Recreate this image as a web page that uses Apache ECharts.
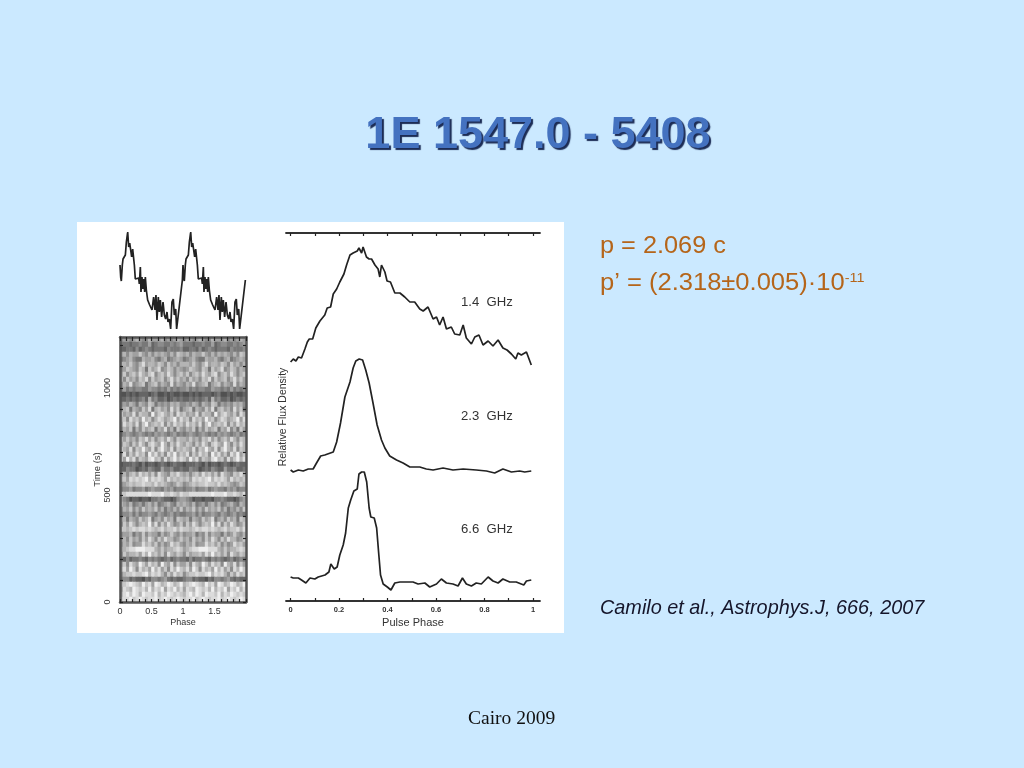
<!DOCTYPE html>
<html><head><meta charset="utf-8">
<style>html,body{margin:0;padding:0;background:#cbe9ff}#c{width:1024px;height:768px}</style>
<script src="https://cdn.jsdelivr.net/npm/echarts@6/dist/echarts.min.js"></script>
</head><body><div id="c"></div>
<script>
// Left profile: one pulse cycle, drawn twice (phase 0-2)
const foldPhase=[0,.011,.021,.037,.048,.063,.085,.101,.122,.138,.154,.175,.185,.201,.217,.228,.243,.27,.296,.307,.323,.333,.349,.36,.376,.392,.402,.418,.439,.471,.508,.534,.556,.571,.587,.608,.624,.64,.661,.683,.704,.725,.746,.762,.783,.804,.825,.846,.862,.884,.899,.915,.99];
const foldFlux=[67,55,51,67,73,71,77,90,100,85,89,88,75,83,82,67,53,55,54,48,65,40,55,43,53,40,55,42,32,27,22,35,22,37,12,35,20,32,15,30,17,13,20,10,13,3,30,33,17,23,3,3,52];
// Time-phase image: brightness digit per phase bin, top row = latest time
const heatRows=["45545654465556454565","33323343352344334345","22332423432333243334","56465575464656546476","34564336556435634565","66575468566576475646","45765476375684576465","57467586578467586467","64756476847567468575","46584567356746548465","45343443354434353434","11212122212311212112","22323234263422312323","45465365476354546564","56736547583675648573","75658476649578657486","67486759674687567958","58675847956768475867","46573647567365846375","34543454343545434534","65756476857467586476","57647586478659647586","76584769658479658476","68475867496857486957","75968476589674857968","12223213122123212322","22433123243225334223","56467586757486547686","67587878968787586767","45676778776867654576","34453445345443545344","77888888898889778768","54312212213343221245","65463453564634564365","46574647565746354647","34453534454354345343","56365475683564756376","47586467695847586457","77678788787678677868","45563547465536457546","56475647586475866457","46574558675746458675","56788999888657566787","47566758696757486576","32423343243432342343","57486597586749658475","68597486759685748697","46778778968786475867","34423221324434532322","67898769785986798679","58769878696879587968","68979869887968798787","78897898788978987898"];
// Right profiles
const phase14=[0,.011,.022,.032,.045,.059,.069,.077,.091,.104,.121,.141,.151,.165,.176,.19,.203,.22,.231,.245,.258,.275,.282,.293,.299,.313,.324,.334,.348,.361,.368,.375,.389,.398,.412,.43,.451,.471,.492,.512,.533,.547,.567,.588,.602,.615,.629,.643,.663,.677,.698,.712,.725,.746,.76,.777,.794,.815,.835,.856,.876,.893,.911,.929,.938,.952,.973,.993];
const flux14=[239,242,240,244,243,252,259,262,262,273,280,286,293,294,307,312,319,327,336,346,348,350,353,348,354,344,342,342,336,332,324,336,329,320,319,308,308,304,299,299,292,290,294,282,284,276,284,272,274,267,266,276,263,257,264,266,256,260,255,261,253,251,247,242,248,246,249,236];
const phase23=[0,.011,.032,.052,.073,.093,.107,.124,.141,.176,.19,.206,.224,.245,.258,.269,.283,.297,.31,.324,.34,.357,.375,.389,.409,.437,.464,.492,.533,.56,.588,.629,.67,.712,.766,.808,.842,.876,.911,.945,.966,.993];
const flux23=[131,129,131,130,132,132,138,145,146,149,159,178,204,219,233,240,242,241,231,218,198,176,161,153,145,141,138,134,134,132,131,133,131,132,131,130,128,132,129,130,129,130];
const phase66=[0,.011,.032,.045,.063,.08,.1,.114,.142,.158,.166,.18,.192,.203,.217,.227,.238,.248,.261,.275,.282,.293,.304,.314,.324,.331,.345,.355,.363,.371,.382,.399,.414,.43,.451,.472,.489,.505,.526,.554,.574,.602,.622,.643,.67,.691,.709,.725,.746,.766,.787,.815,.835,.856,.876,.904,.931,.962,.973,.993];
const flux66=[24,23,23,21,18,23,22,24,26,29,37,32,34,46,56,68,93,101,110,112,127,129,129,119,93,84,83,73,49,26,17,14,11,18,19,19,19,19,17,18,14,17,22,18,17,15,23,17,15,18,17,24,20,18,22,19,19,16,20,21];
const bandLabels=["1.4  GHz","2.3  GHz","6.6  GHz"];
const phaseTicks=[0,.1,.2,.3,.4,.5,.6,.7,.8,.9,1,1.1,1.2,1.3,1.4,1.5,1.6,1.7,1.8,1.9,2];
const phaseLabels=[0,.5,1,1.5];
const timeTicks=[0,100,200,300,400,500,600,700,800,900,1000,1100,1200];
const timeLabels=[0,500,1000];
const pulseTicks=[0,.1,.2,.3,.4,.5,.6,.7,.8,.9,1];
const pulseLabels=[0,.2,.4,.6,.8,1];
const titleText="1E 1547.0 - 5408";
const citation="Camilo et al., Astrophys.J, 666, 2007";
const footer="Cairo 2009";

const zip=(a,b)=>a.map((v,i)=>[v,b[i]]);
const foldTwice=foldPhase.map((p,i)=>[p,foldFlux[i]]).concat(foldPhase.map((p,i)=>[p+1,foldFlux[i]]));
const nCols=heatRows[0].length*2;
const heat=[];
heatRows.forEach((r,y)=>{for(let x=0;x<nCols;x++)heat.push([x,y,+r[x%r.length]]);});
const ink='#333', sans='"Liberation Sans",Arial,sans-serif';
const lineOf=(d,x,y)=>({type:'line',data:d,xAxisIndex:x,yAxisIndex:y,showSymbol:false,symbol:'none',silent:true,animation:false,lineStyle:{color:'#222',width:1.7}});
const frame={onZero:false,lineStyle:{color:'#555',width:2.5}};
const rule={show:true,onZero:false,lineStyle:{color:'#333',width:1.8}};
const tk=(vals,len)=>({show:true,inside:true,length:len,customValues:vals,lineStyle:{color:'#222',width:1.2}});
const chart=echarts.init(document.getElementById('c'),null,{renderer:'canvas'});
chart.setOption({
 backgroundColor:'transparent',animation:false,
 title:{text:titleText,left:533,top:108,textAlign:'center',textStyle:{fontFamily:sans,fontSize:45,fontWeight:'bold',color:'#4472c0',textShadowColor:'#1c2c55',textShadowBlur:1,textShadowOffsetX:2,textShadowOffsetY:2}},
 graphic:[
  {type:'rect',z:-10,shape:{x:77,y:222,width:487,height:411},style:{fill:'#fff'}},
  {type:'text',x:461,y:296,scaleX:1.05,style:{text:bandLabels[0],font:'12.5px '+sans,fill:ink}},
  {type:'text',x:461,y:410,scaleX:1.05,style:{text:bandLabels[1],font:'12.5px '+sans,fill:ink}},
  {type:'text',x:461,y:523,scaleX:1.05,style:{text:bandLabels[2],font:'12.5px '+sans,fill:ink}},
  {type:'text',x:600,y:235,scaleX:1.1,style:{text:'p = 2.069 c',font:'23px '+sans,fill:'#b5651a'}},
  {type:'text',x:600,y:272,scaleX:1.11,style:{text:'{a|p’ = (2.318±0.005)·10}{s|-11}',fill:'#b5651a',rich:{a:{font:'23px '+sans,fill:'#b5651a'},s:{font:'13px '+sans,fill:'#b5651a',verticalAlign:'top',padding:[0,0,9,0]}}}},
  {type:'text',x:600,y:598,style:{text:citation,font:'italic 19.85px '+sans,fill:'#15152a'}},
  {type:'text',x:468,y:709,style:{text:footer,font:'19.5px "Liberation Serif",serif',fill:'#111'}}
 ],
 visualMap:{show:false,min:0,max:9,seriesIndex:0,inRange:{color:['#3d3d3d','#efefef']}},
 grid:[
  {left:120,top:337,width:126,height:265},
  {left:120,top:337,width:126,height:265},
  {left:120,top:222,width:126,height:110},
  {left:286,top:233,width:254,height:368}
 ],
 xAxis:[
  {gridIndex:0,type:'category',show:false,data:Array.from({length:nCols},(_,i)=>i)},
  {gridIndex:1,z:5,type:'value',position:'bottom',min:0,max:2,axisLine:{show:true,...frame},splitLine:{show:false},axisTick:tk(phaseTicks,3),axisLabel:{customValues:phaseLabels,margin:5,fontSize:9,fontFamily:sans,color:ink},name:'Phase',nameLocation:'middle',nameGap:16,nameTextStyle:{fontSize:9,fontFamily:sans,color:ink}},
  {gridIndex:1,z:5,type:'value',position:'top',min:0,max:2,axisLine:{show:true,...frame},splitLine:{show:false},axisTick:tk(phaseTicks,4),axisLabel:{show:false}},
  {gridIndex:2,type:'value',show:false,min:0,max:2},
  {gridIndex:3,type:'value',position:'bottom',min:-.019,max:1.029,axisLine:rule,splitLine:{show:false},axisTick:tk(pulseTicks,3),axisLabel:{customValues:pulseLabels,margin:5,fontSize:7.5,fontWeight:'bold',fontFamily:sans,color:ink},name:'Pulse Phase',nameLocation:'middle',nameGap:16,nameTextStyle:{fontSize:11,fontFamily:sans,color:ink}},
  {gridIndex:3,type:'value',position:'top',min:-.019,max:1.029,axisLine:rule,splitLine:{show:false},axisTick:tk(pulseTicks,3),axisLabel:{show:false}}
 ],
 yAxis:[
  {gridIndex:0,type:'category',show:false,inverse:true,data:heatRows.map((_,i)=>i)},
  {gridIndex:1,z:5,type:'value',position:'left',min:0,max:1238,axisLine:{show:true,...frame},splitLine:{show:false},axisTick:tk(timeTicks,3),axisLabel:{customValues:timeLabels,formatter:v=>String(v),rotate:90,margin:8,fontSize:9,fontFamily:sans,color:ink},name:'Time (s)',nameLocation:'middle',nameGap:17,nameTextStyle:{fontSize:9.5,fontFamily:sans,color:ink}},
  {gridIndex:1,z:5,type:'value',position:'right',min:0,max:1238,axisLine:{show:true,...frame},splitLine:{show:false},axisTick:tk(timeTicks,3),axisLabel:{show:false}},
  {gridIndex:2,type:'value',show:false,min:0,max:110},
  {gridIndex:3,type:'value',min:0,max:368,axisLine:{show:false},axisTick:{show:false},axisLabel:{show:false},splitLine:{show:false},name:'Relative Flux Density',nameLocation:'middle',nameGap:-3,nameTextStyle:{fontSize:10.5,fontFamily:sans,color:ink}}
 ],
 series:[
  {type:'heatmap',z:1,data:heat,xAxisIndex:0,yAxisIndex:0,silent:true,animation:false,progressive:0},
  lineOf(foldTwice,3,3),
  lineOf(zip(phase14,flux14),4,4),
  lineOf(zip(phase23,flux23),4,4),
  lineOf(zip(phase66,flux66),4,4)
 ]
});
</script></body></html>
